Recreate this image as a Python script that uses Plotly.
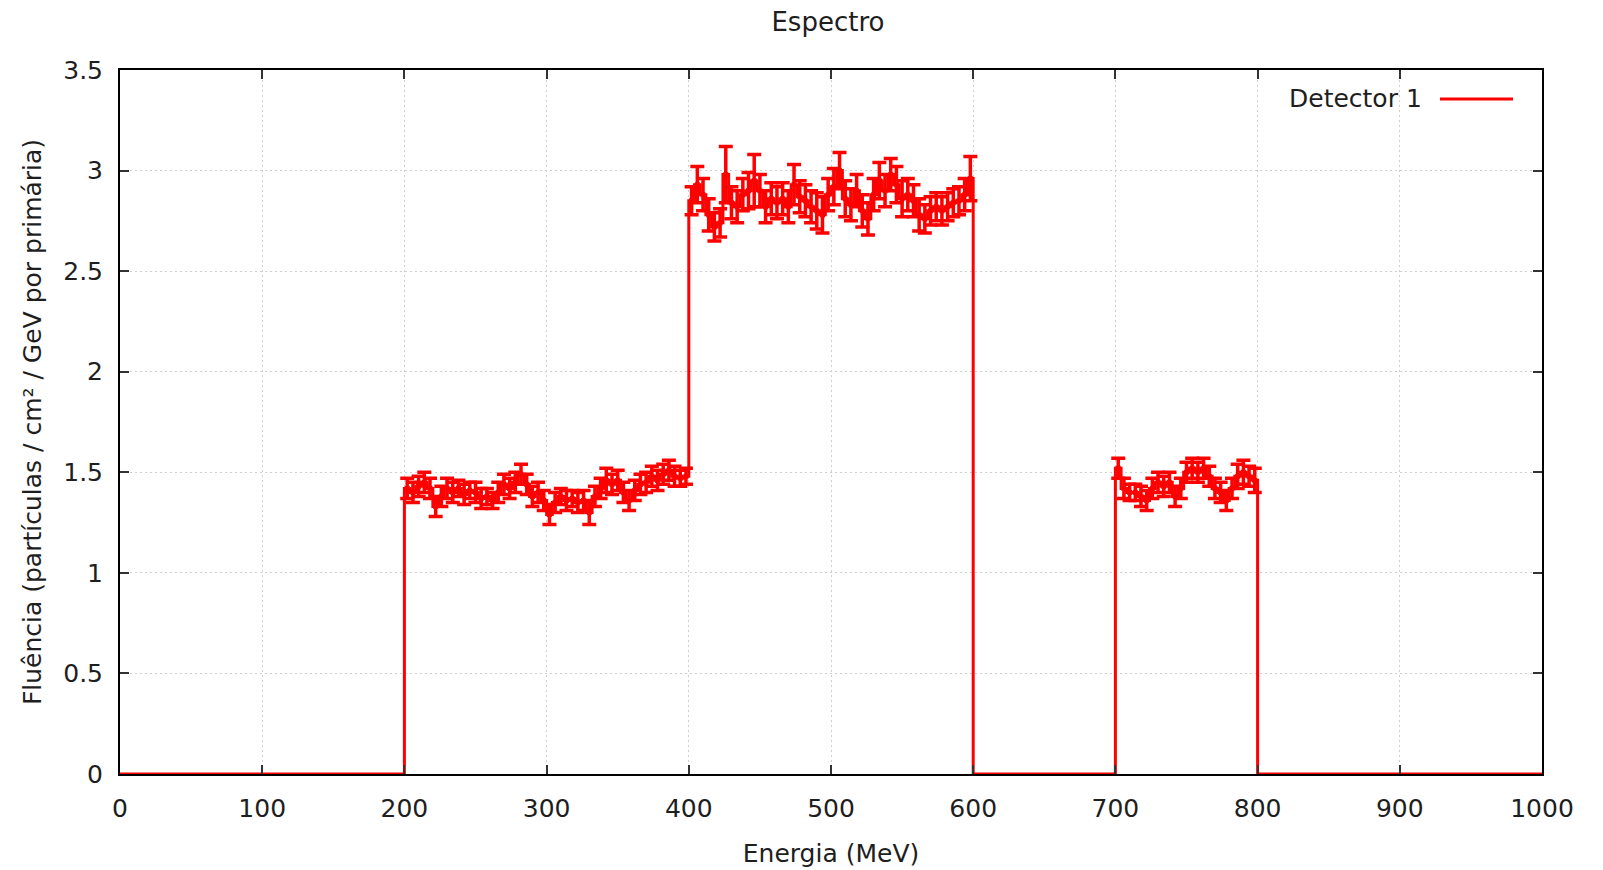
import numpy as np
import plotly.graph_objects as go

# ---- data ----
bin_width = 4  # MeV
region1_start, region1_end = 200, 400
region2_start, region2_end = 400, 600
region3_start, region3_end = 700, 800

fluence_r1 = [1.42, 1.40, 1.43, 1.45, 1.42, 1.33, 1.38, 1.42, 1.40, 1.42,
              1.39, 1.41, 1.40, 1.37, 1.38, 1.36, 1.40, 1.44, 1.42, 1.45,
              1.49, 1.44, 1.38, 1.40, 1.36, 1.29, 1.35, 1.38, 1.36, 1.37,
              1.35, 1.36, 1.30, 1.38, 1.42, 1.46, 1.44, 1.46, 1.40, 1.36,
              1.41, 1.44, 1.45, 1.48, 1.46, 1.49, 1.51, 1.48, 1.47, 1.48]
err_r1 = [0.05, 0.05, 0.05, 0.05, 0.05, 0.05, 0.05, 0.05, 0.05, 0.04,
          0.05, 0.04, 0.05, 0.05, 0.04, 0.04, 0.05, 0.05, 0.05, 0.05,
          0.05, 0.05, 0.05, 0.05, 0.05, 0.05, 0.05, 0.04, 0.05, 0.04,
          0.05, 0.05, 0.06, 0.05, 0.05, 0.06, 0.05, 0.05, 0.05, 0.05,
          0.05, 0.05, 0.05, 0.05, 0.05, 0.05, 0.05, 0.05, 0.04, 0.04]

fluence_r2 = [2.85, 2.93, 2.88, 2.78, 2.72, 2.74, 2.98, 2.84, 2.82, 2.88,
              2.90, 2.95, 2.90, 2.82, 2.86, 2.84, 2.86, 2.82, 2.93, 2.87,
              2.85, 2.82, 2.80, 2.78, 2.88, 2.92, 3.00, 2.86, 2.83, 2.90,
              2.80, 2.76, 2.88, 2.95, 2.90, 2.98, 2.93, 2.86, 2.88, 2.85,
              2.78, 2.76, 2.80, 2.82, 2.80, 2.82, 2.84, 2.85, 2.88, 2.96]
err_r2 = [0.07, 0.09, 0.08, 0.08, 0.07, 0.07, 0.14, 0.08, 0.08, 0.08,
          0.09, 0.13, 0.08, 0.08, 0.08, 0.08, 0.08, 0.08, 0.10, 0.08,
          0.08, 0.08, 0.09, 0.09, 0.08, 0.09, 0.09, 0.09, 0.08, 0.08,
          0.08, 0.08, 0.08, 0.09, 0.08, 0.08, 0.09, 0.09, 0.08, 0.08,
          0.08, 0.07, 0.07, 0.07, 0.07, 0.07, 0.07, 0.07, 0.08, 0.11]

fluence_r3 = [1.52, 1.42, 1.40, 1.40, 1.38, 1.36, 1.42, 1.45, 1.43, 1.45,
              1.38, 1.42, 1.50, 1.52, 1.50, 1.52, 1.48, 1.42, 1.40, 1.36,
              1.42, 1.48, 1.50, 1.48, 1.46]
err_r3 = [0.05, 0.05, 0.04, 0.04, 0.05, 0.05, 0.05, 0.05, 0.05, 0.05,
          0.05, 0.05, 0.05, 0.05, 0.05, 0.05, 0.05, 0.05, 0.05, 0.05,
          0.05, 0.06, 0.06, 0.05, 0.06]

x_ticks = [0, 100, 200, 300, 400, 500, 600, 700, 800, 900, 1000]
y_ticks = [0, 0.5, 1, 1.5, 2, 2.5, 3, 3.5]
y_tick_labels = ["0", "0.5", "1", "1.5", "2", "2.5", "3", "3.5"]

# ---- build step line + error bar points ----
def edges(start, n):
    return list(start + bin_width * np.arange(n))

e1 = edges(region1_start, len(fluence_r1))
e2 = edges(region2_start, len(fluence_r2))
e3 = edges(region3_start, len(fluence_r3))

step_x = [0] + e1 + e2 + [region2_end] + e3 + [region3_end, 1000]
step_y = [0] + fluence_r1 + fluence_r2 + [0] + fluence_r3 + [0, 0]

cx = [e + bin_width / 2 for e in e1 + e2 + e3]
cy = fluence_r1 + fluence_r2 + fluence_r3
ce = err_r1 + err_r2 + err_r3

RED = "#ff0000"
FONT = "DejaVu Sans"
TXT = "#1e1e1e"

fig = go.Figure()
fig.add_trace(go.Scatter(
    x=step_x, y=step_y, mode="lines", line=dict(color=RED, width=3, shape="hv"),
    name="Detector 1", showlegend=False, cliponaxis=False, hoverinfo="skip"))
fig.add_trace(go.Scatter(
    x=cx, y=cy, mode="markers", marker=dict(color=RED, size=5, symbol="square"),
    error_y=dict(type="data", array=ce, visible=True, color=RED, thickness=3.5, width=7),
    showlegend=False))

axis_common = dict(
    showline=True, linecolor="black", linewidth=2, mirror="ticks",
    ticks="inside", ticklen=9, tickwidth=2, tickcolor="#333",
    showgrid=True, gridcolor="#cfcfcf", griddash="2px,3px", gridwidth=1,
    zeroline=False, automargin=False, tickfont=dict(family=FONT, size=25, color=TXT),
)

fig.update_layout(
    width=1603, height=870,
    paper_bgcolor="white", plot_bgcolor="white",
    margin=dict(l=120, r=61, t=70, b=96),
    title=dict(text="Espectro", x=0.5165, xanchor="center", y=0.975, yanchor="middle",
               font=dict(family=FONT, size=26, color=TXT)),
    xaxis=dict(range=[0, 1000], tickvals=x_ticks, ticklabelstandoff=11,
               title=dict(text="Energia (MeV)", font=dict(family=FONT, size=25, color=TXT),
                          standoff=22),
               **axis_common),
    yaxis=dict(range=[0, 3.5], tickvals=y_ticks, ticktext=y_tick_labels, ticklabelstandoff=10,
               title=dict(text="Fluência (partículas / cm² / GeV por primária)",
                          font=dict(family=FONT, size=25, color=TXT), standoff=14),
               **axis_common),
    showlegend=False,
)

# legend replica (text left, line sample right, like gnuplot)
fig.add_annotation(xref="paper", yref="paper", x=(1424 - 120) / 1422, y=(774 - 99) / 704,
                   text="Detector 1", showarrow=False, xanchor="right", yanchor="middle",
                   font=dict(family=FONT, size=25, color=TXT))
fig.add_shape(type="line", xref="paper", yref="paper",
              x0=(1440 - 120) / 1422, x1=(1513 - 120) / 1422,
              y0=(774 - 99) / 704, y1=(774 - 99) / 704,
              line=dict(color=RED, width=3))

fig.write_html("out.html")
